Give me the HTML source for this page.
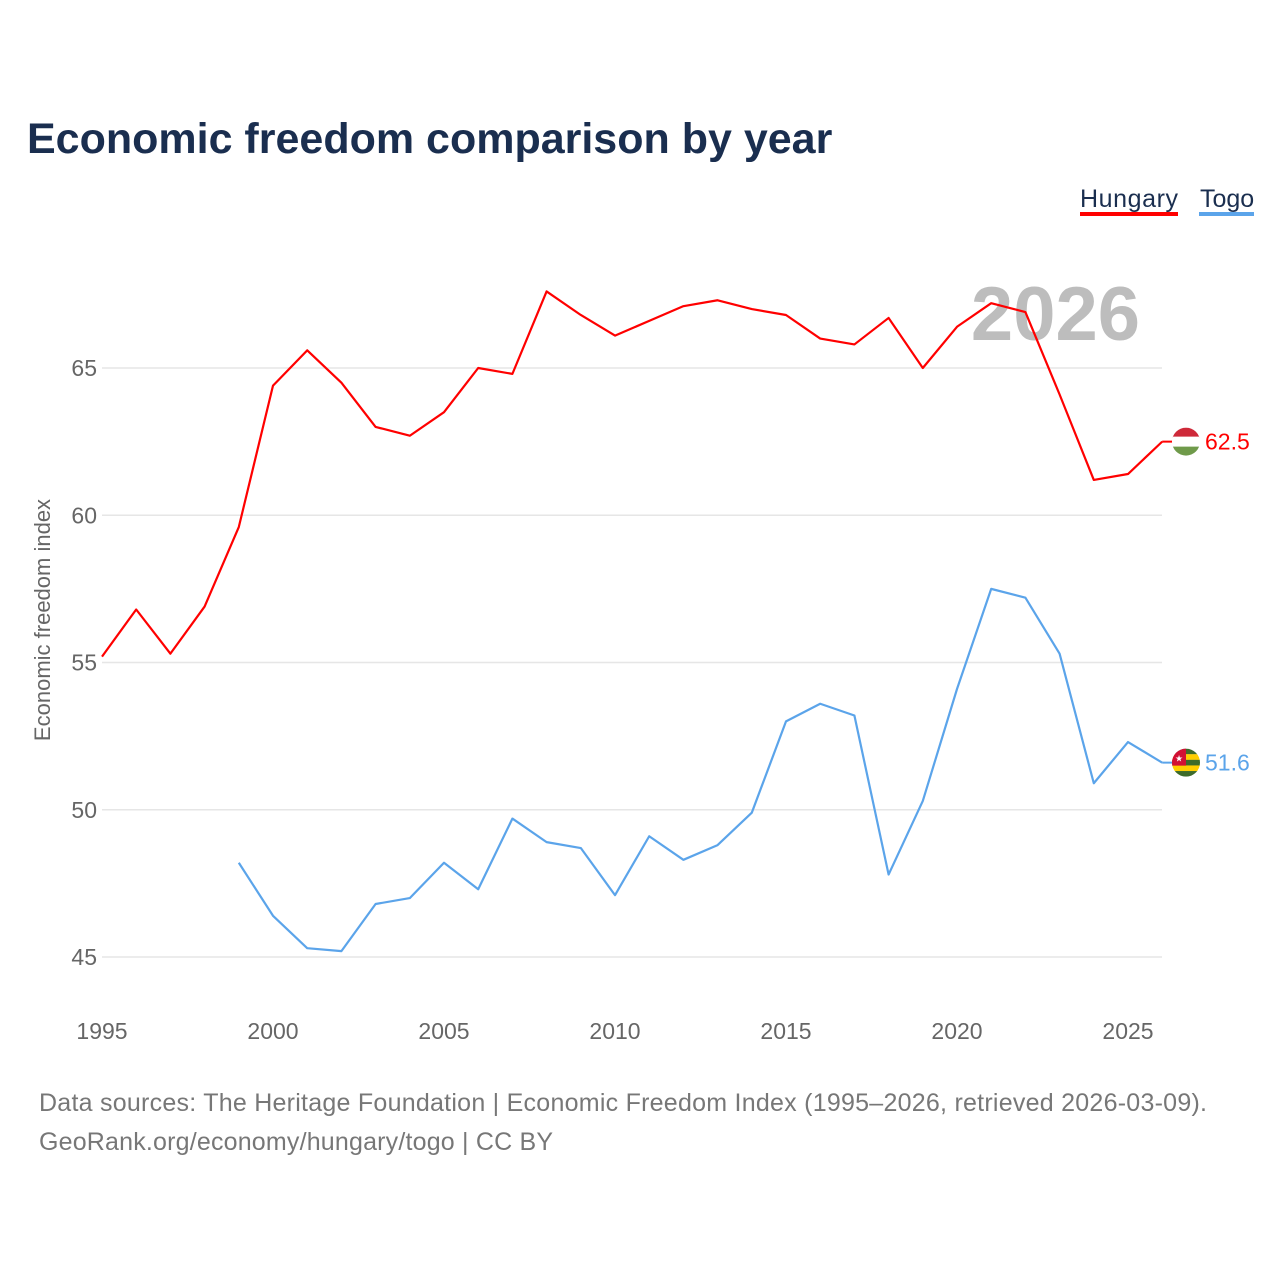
<!DOCTYPE html>
<html><head><meta charset="utf-8"><style>
body{margin:0;width:1280px;height:1280px;background:#fff;font-family:"Liberation Sans",sans-serif;overflow:hidden}
</style></head><body>
<svg id="chart" width="1280" height="1280" xmlns="http://www.w3.org/2000/svg" font-family="Liberation Sans, sans-serif">
<text x="27" y="153" font-size="43" font-weight="bold" fill="#1a2e4f">Economic freedom comparison by year</text>
<g><text x="1080" y="207" font-size="25" fill="#1a2e4f" textLength="98">Hungary</text><rect x="1080" y="212" width="98" height="4" fill="#ff0000"/></g>
<g><text x="1200" y="207" font-size="25" fill="#1a2e4f">Togo</text><rect x="1199" y="212" width="55" height="4" fill="#5ba4ea"/></g>
<text x="1140" y="340" font-size="76" font-weight="bold" fill="#bdbdbd" text-anchor="end">2026</text>
<text transform="translate(50,620) rotate(-90)" font-size="22" fill="#666" text-anchor="middle">Economic freedom index</text>
<g id="grid"></g><g id="xt"></g><g id="lines"></g><g id="ends"></g>
<text x="39" y="1111" font-size="25" fill="#777" textLength="1168">Data sources: The Heritage Foundation | Economic Freedom Index (1995–2026, retrieved 2026-03-09).</text>
<text x="39" y="1150" font-size="25" fill="#777" textLength="514">GeoRank.org/economy/hungary/togo | CC BY</text>
</svg>
<script>
const years=[1995,1996,1997,1998,1999,2000,2001,2002,2003,2004,2005,2006,2007,2008,2009,2010,2011,2012,2013,2014,2015,2016,2017,2018,2019,2020,2021,2022,2023,2024,2025,2026];
const hungary=[55.2,56.8,55.3,56.9,59.6,64.4,65.6,64.5,63.0,62.7,63.5,65.0,64.8,67.6,66.8,66.1,66.6,67.1,67.3,67.0,66.8,66.0,65.8,66.7,65.0,66.4,67.2,66.9,64.1,61.2,61.4,62.5];
const togo=[null,null,null,null,48.2,46.4,45.3,45.2,46.8,47.0,48.2,47.3,49.7,48.9,48.7,47.1,49.1,48.3,48.8,49.9,53.0,53.6,53.2,47.8,50.3,54.1,57.5,57.2,55.3,50.9,52.3,51.6];
const yTicks=[45,50,55,60,65];
const xTicks=[1995,2000,2005,2010,2015,2020,2025];
const NS="http://www.w3.org/2000/svg";
const X=y=>102+(y-1995)*34.2;
const Y=v=>368+(65-v)*29.45;
function mk(t,a,p){const e=document.createElementNS(NS,t);for(const k in a)e.setAttribute(k,a[k]);p.appendChild(e);return e;}
const grid=document.getElementById('grid');
yTicks.forEach(v=>{
 const l=mk('line',{x1:102,x2:1162,y1:Y(v),y2:Y(v),stroke:'#e6e6e6','stroke-width':1.5},grid);
 
 
 const t=mk('text',{x:97,y:Y(v)+8,'font-size':23,fill:'#666','text-anchor':'end'},grid);t.textContent=v;
 
 
});
const xt=document.getElementById('xt');
xTicks.forEach(v=>{
 const t=mk('text',{x:X(v),y:1039,'font-size':23,fill:'#666','text-anchor':'middle'},xt);t.textContent=v;
 
 
});
const lines=document.getElementById('lines');
function path(data,color,name){
 let d='';data.forEach((v,i)=>{if(v==null)return;d+=(d?'L':'M')+X(years[i])+' '+Y(v);});
 const p=mk('path',{d:d,fill:'none',stroke:color,'stroke-width':2.2,'stroke-linejoin':'round'},lines);
 
 
}
path(hungary,'#ff0000','line-hungary');path(togo,'#5ba4ea','line-togo');
const ends=document.getElementById('ends');
function endLabel(data,color,name,flag){
 const v=data[data.length-1],y=Y(v),x=X(2026);
 mk('line',{x1:x,x2:x+10,y1:y,y2:y,stroke:color,'stroke-width':2},ends);
 const g=mk('g',{},ends);
 
 
 mk('clipPath',{id:'c'+name},g);
 mk('circle',{cx:1186,cy:y,r:14},g.lastChild);
 const gg=mk('g',{'clip-path':'url(#c'+name+')'},g);
 flag(gg,y);
 const t=mk('text',{x:1205,y:y+8,'font-size':23,fill:color},ends);t.textContent=v;
 
 
}
endLabel(hungary,'#ff0000','hungary',(g,y)=>{
 mk('rect',{x:1172,y:y-14,width:28,height:10,fill:'#ce2939'},g);
 mk('rect',{x:1172,y:y-5,width:28,height:10,fill:'#fff'},g);
 mk('rect',{x:1172,y:y+5,width:28,height:10,fill:'#6f9a4a'},g);
});
endLabel(togo,'#5ba4ea','togo',(g,y)=>{
 for(let i=0;i<5;i++)mk('rect',{x:1172,y:y-14+i*5.6,width:28,height:5.7,fill:i%2?'#ffce00':'#3d6b2a'},g);
 mk('rect',{x:1172,y:y-14,width:14,height:17,fill:'#d21034'},g);
 const s=mk('text',{x:1179,y:y-1,'font-size':9,fill:'#fff','text-anchor':'middle'},g);s.textContent='★';
});
</script>
</body></html>
